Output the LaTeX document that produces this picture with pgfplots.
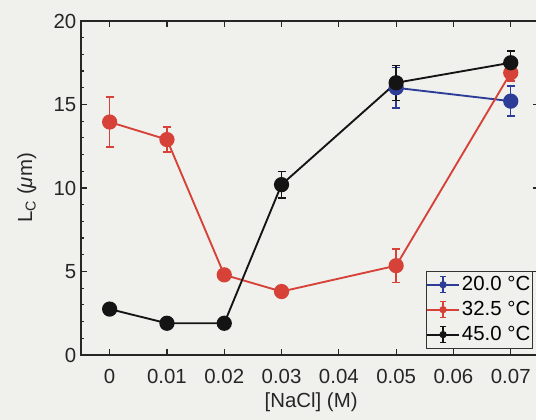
\documentclass[border=0pt]{standalone}
\usepackage{pgfplots}
\pgfplotsset{compat=1.18}
\usepackage{fontspec}
\setmainfont{Liberation Sans}
\definecolor{page}{RGB}{240,240,237}
\definecolor{cblue}{RGB}{45,60,150}
\definecolor{cred}{RGB}{214,66,56}
\definecolor{cblack}{RGB}{20,20,20}
\newcommand\lblfont{\fontsize{15.3}{18}\selectfont}
\begin{document}
\begin{tikzpicture}
\path[use as bounding box, clip] (0,0) rectangle (402pt,315pt);
\fill[page] (0,0) rectangle (402pt,315pt);
\begin{axis}[
  at={(60.75pt,48.75pt)}, anchor=south west,
  scale only axis, width=343.8pt, height=250.5pt,
  xmin=-0.005, xmax=0.075, ymin=0, ymax=20,
  scaled x ticks=false,
  xtick={0,0.01,0.02,0.03,0.04,0.05,0.06,0.07},
  xticklabels={0,0.01,0.02,0.03,0.04,0.05,0.06,0.07},
  ytick={0,5,10,15,20}, minor y tick num=4,
  tick align=inside, major tick length=4.5pt, minor tick length=2.5pt,
  axis line style={line width=0.9pt, black!85},
  every tick/.style={line width=0.9pt, black!85},
  /pgf/number format/assume math mode=true,
  tick label style={font=\lblfont, text=black!85},
  xticklabel style={yshift=-7.5pt},
  label style={font=\lblfont, text=black!85},
  xlabel={[NaCl] (M)},
  ylabel={L\textsubscript{C} (\textit{μ}m)},
  xlabel style={at={(axis description cs:0.502,-0.14)}, anchor=center},
  ylabel style={at={(axis description cs:-0.118,0.5)}, anchor=center},
  legend style={at={(axis description cs:0.985,0.02)}, anchor=south east,
    draw=black!80, fill=page, font=\lblfont,
    inner xsep=0pt, inner ysep=2pt, row sep=2.5pt,
    nodes={inner xsep=1.5pt}},
  legend cell align=left,
  legend image code/.code={
    \draw[#1, mark=none] (-2pt,0pt) -- (22pt,0pt);
    \draw[#1, mark=none, line width=0.9pt] (10pt,-6pt) -- (10pt,6pt)
      (8pt,-6pt) -- (12pt,-6pt) (8pt,6pt) -- (12pt,6pt);
    \draw[#1] plot[mark=*, mark size=2pt] coordinates {(10pt,0pt)};
  },
  every axis plot/.append style={line width=1.4pt},
  error bars/error bar style={line width=1.1pt},
  error bars/error mark options={rotate=90, mark size=3pt, line width=1.1pt},
]
% 20.0 C
\addplot[color=cblue, mark=*, mark size=5pt, mark options={fill=cblue},
  error bars/.cd, y dir=both, y explicit]
  coordinates {(0.05,16.0) +- (0,1.2) (0.07,15.2) +- (0,0.9)};
\addlegendentry{20.0 °C}
% 32.5 C
\addplot[color=cred, mark=*, mark size=5pt, mark options={fill=cred},
  error bars/.cd, y dir=both, y explicit]
  coordinates {
    (0,13.95) +- (0,1.5)
    (0.01,12.9) +- (0,0.75)
    (0.02,4.8) +- (0,0.2)
    (0.03,3.8) +- (0,0.35)
    (0.05,5.35) +- (0,1.0)
    (0.07,16.9) +- (0,0.5)
  };
\addlegendentry{32.5 °C}
% 45.0 C
\addplot[color=cblack, mark=*, mark size=5pt, mark options={fill=cblack},
  error bars/.cd, y dir=both, y explicit]
  coordinates {
    (0,2.75) +- (0,0.15)
    (0.01,1.9) +- (0,0.1)
    (0.02,1.9) +- (0,0.1)
    (0.03,10.2) +- (0,0.8)
    (0.05,16.3) +- (0,1.05)
    (0.07,17.5) +- (0,0.7)
  };
\addlegendentry{45.0 °C}
\end{axis}
\end{tikzpicture}
\end{document}
